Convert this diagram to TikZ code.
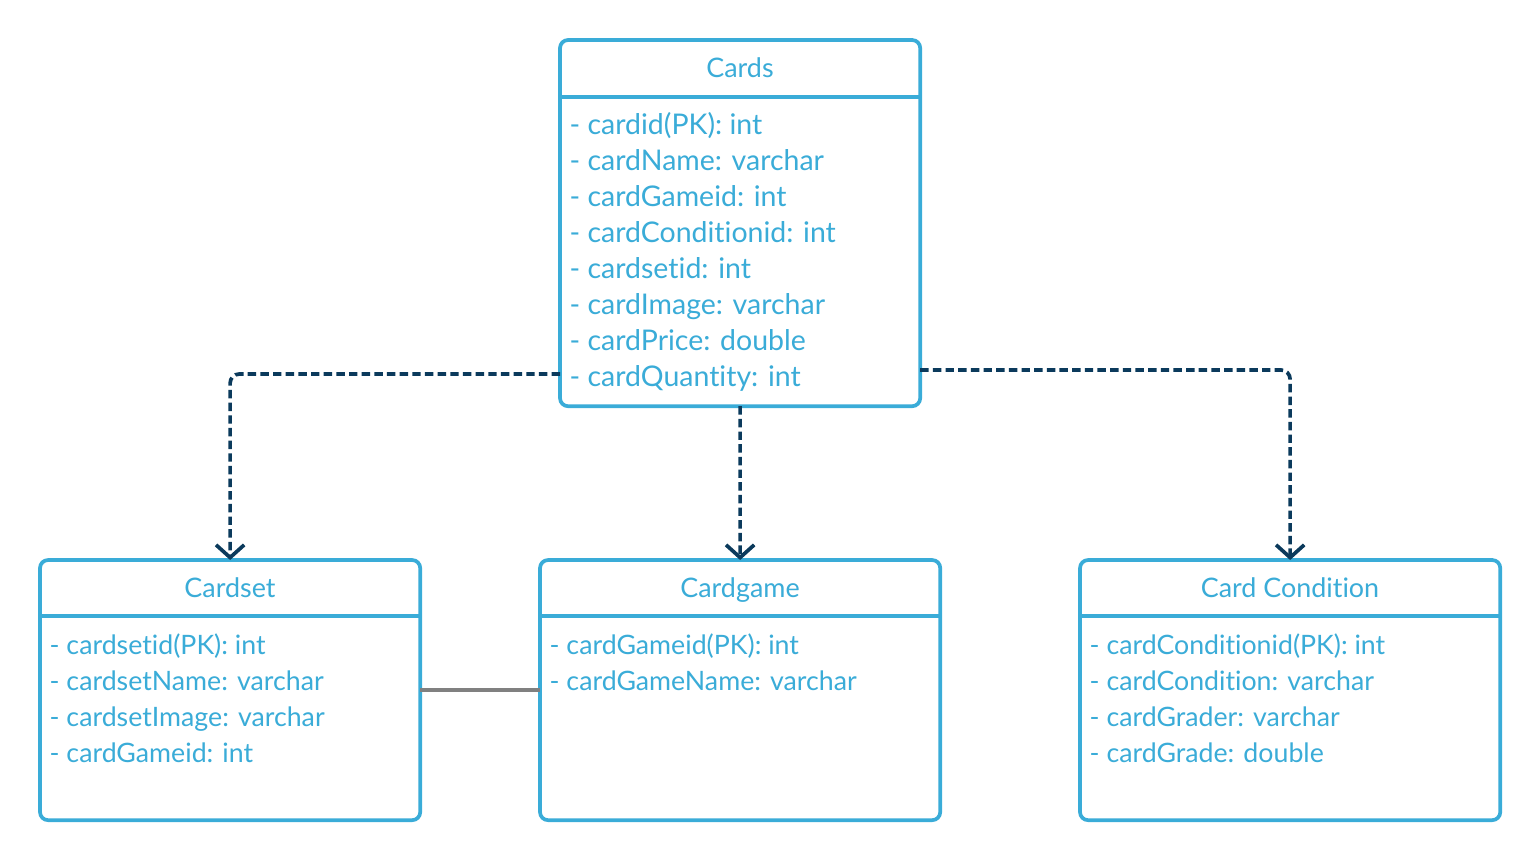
\documentclass[tikz,border=0pt]{standalone}
\usepackage{fontspec}
\setmainfont{Lato}[Ligatures=NoCommon]
\usetikzlibrary{arrows.meta}
\definecolor{umlblue}{HTML}{3AACD8}
\definecolor{navy}{HTML}{0B3A5C}
\definecolor{linkgray}{HTML}{808080}
\tikzset{
  umlbox/.style={draw=umlblue, line width=1.05pt, rounded corners=2.3pt, fill=white,
    anchor=north west, inner sep=0pt, outer sep=0pt},
  sepline/.style={draw=umlblue, line width=1.05pt},
  titletext/.style={text=umlblue, font=\fontsize{7.65pt}{9pt}\selectfont, anchor=base, inner sep=0pt},
  rowtext/.style={text=umlblue, font=\fontsize{7.6pt}{9pt}\selectfont, anchor=base west, inner sep=0pt},
  bigrowtext/.style={rowtext, font=\fontsize{8.1pt}{9pt}\selectfont},
  depline/.style={draw=navy, line width=1.05pt, dash pattern=on 2.4pt off 1.2pt,
    rounded corners=2.6pt, -{Straight Barb[length=3.6pt,width=8pt,line width=1.05pt]}},
  assocline/.style={draw=linkgray, line width=1.05pt}
}
\begin{document}
\begin{tikzpicture}[x=0.01cm,y=-0.01cm]
\useasboundingbox (0,0) rectangle (1540,860);

% Cards
\node[umlbox, minimum width=3.6cm, minimum height=3.66cm] (cards) at (560,40) {};
\coordinate (cardsSepL) at (560,97);
\coordinate (cardsSepR) at (920,97);
\draw[sepline] (cardsSepL) -- (cardsSepR);
\node[titletext] (cardsT) at (740,77) {Cards};
\node[bigrowtext] (c1) at (569,134) {- cardid(PK): int};
\node[bigrowtext] (c2) at (569,170) {- cardName: varchar};
\node[bigrowtext] (c3) at (569,206) {- cardGameid: int};
\node[bigrowtext] (c4) at (569,242) {- cardConditionid: int};
\node[bigrowtext] (c5) at (569,278) {- cardsetid: int};
\node[bigrowtext] (c6) at (569,314) {- cardImage: varchar};
\node[bigrowtext] (c7) at (569,350) {- cardPrice: double};
\node[bigrowtext] (c8) at (569,386) {- cardQuantity: int};

% Cardset
\node[umlbox, minimum width=3.8cm, minimum height=2.6cm] (cardset) at (40,560) {};
\coordinate (setSepL) at (40,616);
\coordinate (setSepR) at (420,616);
\draw[sepline] (setSepL) -- (setSepR);
\node[titletext] (setT) at (230,597) {Cardset};
\node[rowtext] (s1) at (49,654) {- cardsetid(PK): int};
\node[rowtext] (s2) at (49,690) {- cardsetName: varchar};
\node[rowtext] (s3) at (49,726) {- cardsetImage: varchar};
\node[rowtext] (s4) at (49,762) {- cardGameid: int};

% Cardgame
\node[umlbox, minimum width=4.0cm, minimum height=2.6cm] (cardgame) at (540,560) {};
\coordinate (gameSepL) at (540,616);
\coordinate (gameSepR) at (940,616);
\draw[sepline] (gameSepL) -- (gameSepR);
\node[titletext] (gameT) at (740,597) {Cardgame};
\node[rowtext] (g1) at (549,654) {- cardGameid(PK): int};
\node[rowtext] (g2) at (549,690) {- cardGameName: varchar};

% Card Condition
\node[umlbox, minimum width=4.2cm, minimum height=2.6cm] (cond) at (1080,560) {};
\coordinate (condSepL) at (1080,616);
\coordinate (condSepR) at (1500,616);
\draw[sepline] (condSepL) -- (condSepR);
\node[titletext] (condT) at (1290,597) {Card Condition};
\node[rowtext] (k1) at (1089,654) {- cardConditionid(PK): int};
\node[rowtext] (k2) at (1089,690) {- cardCondition: varchar};
\node[rowtext] (k3) at (1089,726) {- cardGrader: varchar};
\node[rowtext] (k4) at (1089,762) {- cardGrade: double};

% connectors
\draw[depline] (cards.west |- 0,374) -| (cardset.north);
\draw[depline] (cards.south) -- (cardgame.north);
\draw[depline] (cards.east |- 0,370) -| (cond.north);
\draw[assocline] (cardset.east |- 0,690) -- (cardgame.west |- 0,690);
\end{tikzpicture}
\end{document}
